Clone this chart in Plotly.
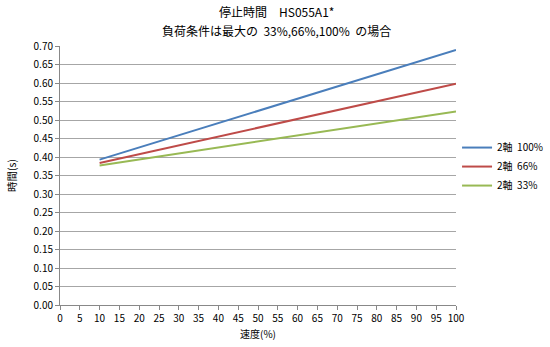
import plotly.graph_objects as go

# Speed (%) and stopping time (s) for each load condition
speed = [10, 20, 30, 40, 50, 60, 70, 80, 90, 100]
time_100 = [0.393, 0.426, 0.459, 0.492, 0.524, 0.557, 0.590, 0.623, 0.656, 0.689]
time_66 = [0.384, 0.408, 0.432, 0.455, 0.479, 0.503, 0.527, 0.551, 0.574, 0.598]
time_33 = [0.377, 0.393, 0.409, 0.425, 0.442, 0.458, 0.474, 0.490, 0.507, 0.523]

series_names = ["2軸  100%", "2軸  66%", "2軸  33%"]
series_colors = ["#4a7ebb", "#be4b48", "#98b954"]

x_ticks = list(range(0, 101, 5))
y_ticks = [round(i * 0.05, 2) for i in range(15)]

title_lines = ["停止時間　HS055A1*", "負荷条件は最大の  33%,66%,100%  の場合"]

FONT = "Noto Sans CJK JP"

fig = go.Figure()
for name, vals, color in zip(series_names, [time_100, time_66, time_33], series_colors):
    fig.add_trace(go.Scatter(
        x=speed, y=vals, mode="lines", name=name,
        line=dict(color=color, width=2),
    ))

fig.update_layout(
    width=550, height=347,
    margin=dict(l=60, r=94, t=46, b=42, autoexpand=False),
    paper_bgcolor="white", plot_bgcolor="white",
    font=dict(family=FONT, size=10, color="black"),
    legend=dict(
        xref="container", yref="container",
        x=0.831, xanchor="left", y=0.52, yanchor="middle",
        font=dict(family=FONT, size=10, color="black"),
        tracegroupgap=0, itemwidth=30,
        bgcolor="rgba(0,0,0,0)",
    ),
    showlegend=True,
)

# Two-line chart title
for text, ypos in zip(title_lines, [1.133, 1.058]):
    fig.add_annotation(
        text=text, xref="paper", yref="paper", x=0.547, y=ypos,
        xanchor="center", yanchor="middle", showarrow=False,
        font=dict(family=FONT, size=12, color="black"),
    )

fig.update_xaxes(
    range=[0, 100], tickvals=x_ticks, ticktext=[str(v) for v in x_ticks],
    showgrid=False, zeroline=False,
    showline=True, linecolor="#888888", linewidth=1,
    ticks="outside", ticklen=4, tickcolor="#888888",
    tickfont=dict(family=FONT, size=10),
    title=dict(text="速度(%)", font=dict(family=FONT, size=10), standoff=6),
)
fig.update_yaxes(
    range=[0, 0.7], tickvals=y_ticks, ticktext=[f"{v:.2f}" for v in y_ticks],
    showgrid=True, gridcolor="#a6a6a6", gridwidth=1, zeroline=False,
    showline=True, linecolor="#888888", linewidth=1,
    ticks="outside", ticklen=4, tickcolor="#888888",
    tickfont=dict(family=FONT, size=10),
    title=dict(text="時間(s)", font=dict(family=FONT, size=10.5), standoff=14),
)

fig.write_html("out.html")
